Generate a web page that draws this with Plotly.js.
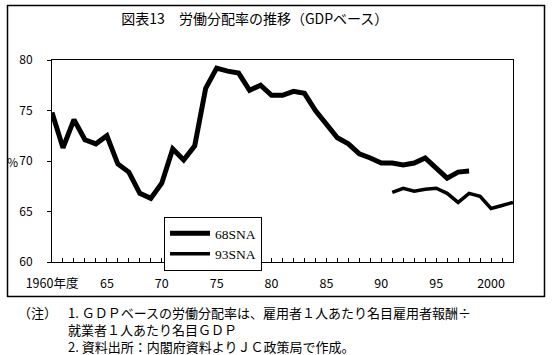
<!DOCTYPE html>
<html>
<head>
<meta charset="utf-8">
<script src="https://cdn.plot.ly/plotly-3.0.1.min.js"></script>
<style>
html,body{margin:0;padding:0;background:#fff;}
#chart{width:554px;height:355px;}
</style>
</head>
<body>
<div id="chart"></div>
<script>
// Data
var years68 = [1960,1961,1962,1963,1964,1965,1966,1967,1968,1969,1970,1971,1972,1973,1974,1975,1976,1977,1978,1979,1980,1981,1982,1983,1984,1985,1986,1987,1988,1989,1990,1991,1992,1993,1994,1995,1996,1997,1998];
var share68 = [74.8,71.3,74.1,72.1,71.7,72.5,69.7,68.9,66.8,66.3,67.8,71.2,70.1,71.5,77.2,79.2,78.9,78.7,77.0,77.5,76.5,76.5,76.9,76.7,75.0,73.7,72.3,71.7,70.7,70.3,69.8,69.8,69.6,69.8,70.3,69.3,68.3,68.9,69.0];
var years93 = [1991,1992,1993,1994,1995,1996,1997,1998,1999,2000,2001,2002];
var share93 = [66.9,67.3,67.0,67.2,67.3,66.8,65.9,66.8,66.5,65.3,65.6,65.9];
var xTickVals = [1960,1965,1970,1975,1980,1985,1990,1995,2000];
var xTickText = ["1960年度","65","70","75","80","85","90","95","2000"];
var yTickVals = [60,65,70,75,80];
var seriesNames = ["68SNA","93SNA"];

var JP = '"Noto Sans CJK JP", "Noto Sans", sans-serif';

var traces = [
  {x: years68, y: share68, name: seriesNames[0], type: 'scatter', mode: 'lines',
   line: {color: '#000', width: 5}},
  {x: years93, y: share93, name: seriesNames[1], type: 'scatter', mode: 'lines',
   line: {color: '#000', width: 3.5}}
];

// paper area = outer frame (x 7..545, y 5..297); helpers convert pixels to paper fractions
function px(v) { return (v - 7) / 538; }
function py(v) { return (297 - v) / 292; }

var layout = {
  width: 554, height: 355,
  margin: {l: 7, r: 9, t: 5, b: 58},
  paper_bgcolor: '#fff', plot_bgcolor: '#fff',
  font: {family: JP, size: 12, color: '#000'},
  title: {text: '図表13　労働分配率の推移（GDPベース）', x: 0.46, xanchor: 'center',
          y: 1 - 19/355, yanchor: 'middle', font: {family: JP, size: 14, color: '#000'}},
  xaxis: {domain: [px(52), px(513)], range: [1960, 2002], tickvals: xTickVals, ticktext: xTickText,
          ticks: 'inside', ticklen: 4, tickcolor: '#000', tickwidth: 1,
          minor: {dtick: 1, tick0: 1960, ticks: 'inside', ticklen: 4, tickcolor: '#000', tickwidth: 1, showgrid: false},
          showline: true, linecolor: '#000', linewidth: 1, mirror: true,
          showgrid: false, zeroline: false, ticklabelstandoff: 10,
          tickfont: {family: JP, size: 12.5, color: '#000'}},
  yaxis: {domain: [py(262), py(60)], range: [60, 80], tickvals: yTickVals,
          ticks: 'outside', ticklen: 4, tickcolor: '#000', tickwidth: 1,
          showline: true, linecolor: '#000', linewidth: 1, mirror: true,
          showgrid: false, zeroline: false, ticklabelstandoff: 12,
          tickfont: {family: JP, size: 12, color: '#000'}},
  showlegend: true,
  legend: {x: px(164), y: py(217), xanchor: 'left', yanchor: 'top',
           bgcolor: '#fff', bordercolor: '#000', borderwidth: 1,
           font: {family: '"Liberation Serif", serif', size: 13.5, color: '#000'},
           itemwidth: 40, tracegroupgap: 0},
  shapes: [
    {type: 'line', xref: 'paper', yref: 'paper', x0: px(7.5), x1: px(7.5), y0: py(5), y1: py(297),
     line: {color: '#000', width: 1.5}, layer: 'above'},
    {type: 'line', xref: 'paper', yref: 'paper', x0: px(544.5), x1: px(544.5), y0: py(5), y1: py(297),
     line: {color: '#000', width: 1.5}, layer: 'above'},
    {type: 'line', xref: 'paper', yref: 'paper', x0: px(7), x1: px(545), y0: py(5.5), y1: py(5.5),
     line: {color: '#000', width: 1.5}, layer: 'above'},
    {type: 'line', xref: 'paper', yref: 'paper', x0: px(7), x1: px(545), y0: py(296.5), y1: py(296.5),
     line: {color: '#000', width: 1.5}, layer: 'above'}
  ],
  annotations: [
    {xref: 'paper', yref: 'paper', x: px(12), y: py(161), text: '%', showarrow: false,
     xanchor: 'center', yanchor: 'middle', font: {family: JP, size: 12, color: '#000'}},
    {xref: 'paper', yref: 'paper', x: px(16), y: py(312), text: '（注）', showarrow: false,
     xanchor: 'left', yanchor: 'middle', font: {family: JP, size: 13, color: '#000'}},
    {xref: 'paper', yref: 'paper', x: px(66), y: py(329), align: 'left',
     text: '1. ＧＤＰベースの労働分配率は、雇用者１人あたり名目雇用者報酬÷<br>就業者１人あたり名目ＧＤＰ<br>2. 資料出所：内閣府資料よりＪＣ政策局で作成。',
     showarrow: false, xanchor: 'left', yanchor: 'middle',
     font: {family: JP, size: 13, color: '#000'}}
  ]
};

Plotly.newPlot('chart', traces, layout, {displayModeBar: false, staticPlot: true});
</script>
</body>
</html>
